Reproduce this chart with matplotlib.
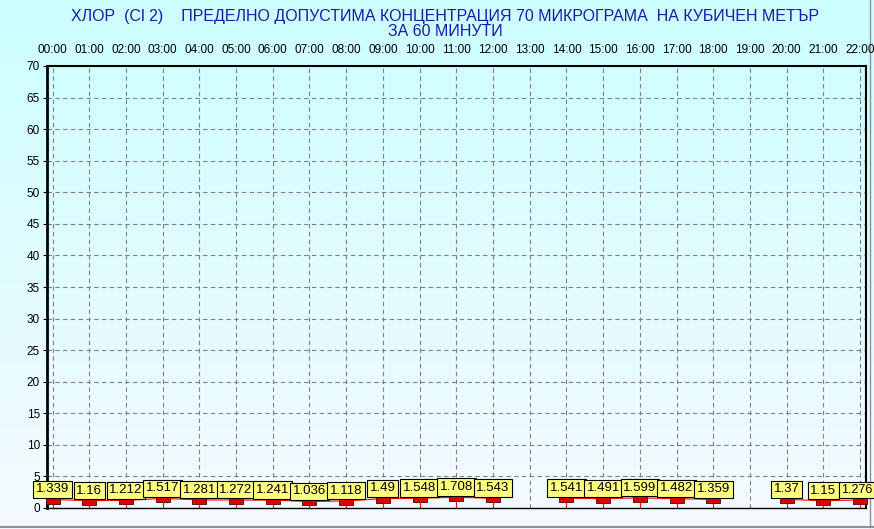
import numpy as np
import matplotlib
matplotlib.use("Agg")
import matplotlib.pyplot as plt

plt.rcParams['font.family'] = ['Liberation Sans', 'DejaVu Sans']

# data (13:00 and 19:00 missing)
hours = list(range(23))
hour_labels = ["%02d:00" % h for h in hours]
values = [1.339, 1.16, 1.212, 1.517, 1.281, 1.272, 1.241, 1.036, 1.118, 1.49,
          1.548, 1.708, 1.543, np.nan, 1.541, 1.491, 1.599, 1.482, 1.359,
          np.nan, 1.37, 1.15, 1.276]
value_labels = ["1.339", "1.16", "1.212", "1.517", "1.281", "1.272", "1.241",
                "1.036", "1.118", "1.49", "1.548", "1.708", "1.543", "",
                "1.541", "1.491", "1.599", "1.482", "1.359", "", "1.37",
                "1.15", "1.276"]
y_ticks = list(range(0, 71, 5))

W, H = 874, 529
fig = plt.figure(figsize=(W / 100, H / 100), dpi=100)

# background gradient, cyan at the top to nearly white at the bottom
bg = fig.add_axes([0, 0, 1, 1], zorder=-10)
top = np.array([0.80, 1.0, 1.0])
bot = np.array([0.96, 0.98, 1.0])
t = np.linspace(0, 1, 256)[:, None]
grad = top * (1 - t) + bot * t
bg.imshow(grad[:, None, :].repeat(2, axis=1), aspect='auto', extent=[0, 1, 0, 1])
bg.set_xlim(0, 1)
bg.set_ylim(0, 1)
bg.axis('off')
bg.plot([0, 1], [2.5 / H, 2.5 / H], color='#909090', lw=1.5)
bg.plot([1 - 4 / W, 1 - 4 / W], [2.5 / H, 1], color='#909090', lw=1.0)

x0, x1, y0, y1 = 47, 866, 66, 508
ax = fig.add_axes([x0 / W, 1 - y1 / H, (x1 - x0) / W, (y1 - y0) / H])
ax.patch.set_alpha(0)
ax.set_xlim(-0.15, 22.16)
ax.set_ylim(0, 70)

ax.set_yticks(y_ticks)
ax.set_xticks(hours)
ax.set_xticklabels(hour_labels)
ax.xaxis.tick_top()
ax.tick_params(axis='x', length=0, pad=7, labelsize=8.5)
ax.tick_params(axis='y', length=3, pad=2, labelsize=8.5, direction='out')
ax.grid(True, color='#808080', linestyle=(0, (4, 3)), lw=0.8)

ax.spines['left'].set_linewidth(2)
ax.spines['right'].set_linewidth(1.5)
ax.spines['top'].set_linestyle((0, (3, 1)))
ax.spines['top'].set_linewidth(1.5)
ax.spines['bottom'].set_linestyle((0, (3, 1)))
ax.spines['bottom'].set_linewidth(1)

vals = np.array(values)
ok = ~np.isnan(vals)
ax.vlines(np.array(hours)[ok], 0, vals[ok], color='red', lw=0.8, zorder=3)
ax.plot(hours, vals, color='red', lw=0.8, zorder=3)
rect = [(-1, -0.6), (1, -0.6), (1, 0.6), (-1, 0.6), (-1, -0.6)]
ax.plot(hours, vals, linestyle='none', marker=rect, markersize=10,
        markerfacecolor='#dd0000', markeredgecolor='#600000', markeredgewidth=0.6,
        zorder=5, clip_on=False)

for h, v, lab in zip(hours, values, value_labels):
    if not lab:
        continue
    last = h == hours[-1]
    ax.annotate(lab, (h, v), xytext=(-2.5 if last else 0, 3), textcoords='offset points',
                ha='center', va='bottom', fontsize=9 if last else 9.5, zorder=6,
                annotation_clip=False,
                bbox=dict(boxstyle='square,pad=0.15' if last else 'square,pad=0.2',
                          fc='#ffff80', ec='black', lw=0.8))

title_color = '#1a1aa8'
fig.text(445 / W, 1 - 16 / H,
         "ХЛОР  (Cl 2)    ПРЕДЕЛНО ДОПУСТИМА КОНЦЕНТРАЦИЯ 70 МИКРОГРАМА  НА КУБИЧЕН МЕТЪР",
         ha='center', va='center', fontsize=11.5, color=title_color)
fig.text(445 / W, 1 - 32 / H, "ЗА 60 МИНУТИ",
         ha='center', va='center', fontsize=11.5, color=title_color)

fig.savefig("out.png", dpi=100)
